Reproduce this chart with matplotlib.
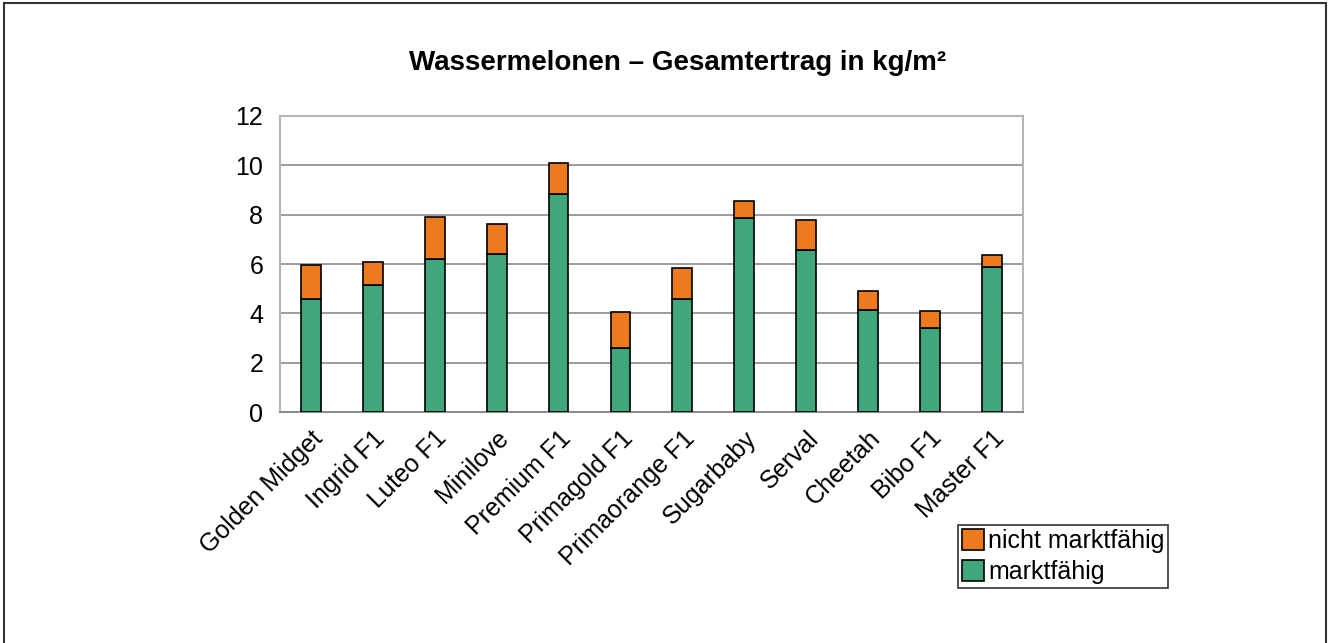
import numpy as np
import matplotlib.pyplot as plt
from matplotlib.patches import Rectangle

plt.rcParams['font.family'] = ['Liberation Sans', 'DejaVu Sans']

sorten = ['Golden Midget', 'Ingrid F1', 'Luteo F1', 'Minilove', 'Premium F1',
          'Primagold F1', 'Primaorange F1', 'Sugarbaby', 'Serval', 'Cheetah',
          'Bibo F1', 'Master F1']
marktfaehig = [4.57, 5.15, 6.20, 6.42, 8.85, 2.62, 4.59, 7.85, 6.58, 4.13, 3.41, 5.89]
gesamt = [5.95, 6.10, 7.90, 7.61, 10.10, 4.07, 5.83, 8.54, 7.80, 4.91, 4.09, 6.37]
nicht_marktfaehig = [g - m for g, m in zip(gesamt, marktfaehig)]

yticks = [0, 2, 4, 6, 8, 10, 12]

green = '#3fa77b'
orange = '#ed7b1e'

fig = plt.figure(figsize=(13.3, 6.43), dpi=100)
ax = fig.add_axes([280 / 1330, 1 - 412.3 / 643, 742.7 / 1330, 296.6 / 643])

x = np.arange(len(sorten))
w = 0.32
ax.bar(x, marktfaehig, w, color=green, edgecolor='black', linewidth=1.2,
       label='marktfähig', zorder=3)
ax.bar(x, nicht_marktfaehig, w, bottom=marktfaehig, color=orange,
       edgecolor='black', linewidth=1.2, label='nicht marktfähig', zorder=3)

ax.set_xlim(-0.5, len(sorten) - 0.5)
ax.set_ylim(0, 12)
ax.set_yticks(yticks)
ax.set_yticklabels([str(t) for t in yticks], fontsize=18)
ax.set_xticks(x)
ax.set_xticklabels(sorten, rotation=45, ha='right', va='top',
                   rotation_mode='anchor', fontsize=18)
ax.tick_params(axis='both', length=0)
ax.tick_params(axis='y', pad=12)
ax.tick_params(axis='x', pad=10)

ax.yaxis.grid(True, color='#8c8c8c', linewidth=1.2, zorder=0)
ax.set_axisbelow(True)
for side in ['left', 'top', 'right']:
    ax.spines[side].set_color('#b5b5b5')
    ax.spines[side].set_linewidth(1.5)
ax.spines['bottom'].set_color('#8c8c8c')
ax.spines['bottom'].set_linewidth(1.5)

fig.text(678 / 1330, 1 - 63 / 643, 'Wassermelonen – Gesamtertrag in kg/m²',
         ha='center', va='center', fontsize=20, fontweight='bold')

handles, labels = ax.get_legend_handles_labels()
leg = fig.legend(handles[::-1], labels[::-1], loc='upper left',
                 bbox_to_anchor=(958 / 1330, 1 - 525 / 643), fontsize=18,
                 frameon=True, fancybox=False, edgecolor='black',
                 borderpad=0.15, handlelength=0.9, handleheight=0.9,
                 handletextpad=0.15, labelspacing=0.3, borderaxespad=0)
leg.get_frame().set_linewidth(1.2)

fig.add_artist(Rectangle((4 / 1330, -0.05), 1322 / 1330, 1.05 - 3 / 643,
                         transform=fig.transFigure, fill=False,
                         edgecolor='#333333', linewidth=1.5))

fig.savefig('out.png', dpi=100)
